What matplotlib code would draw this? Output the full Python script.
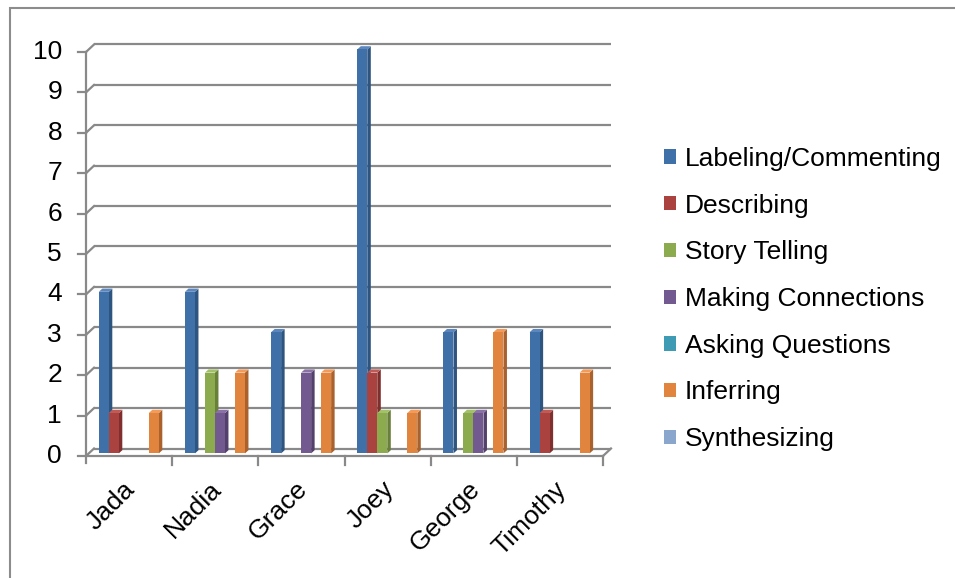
import matplotlib
matplotlib.use("Agg")
import matplotlib.pyplot as plt
from matplotlib.patches import Polygon, Rectangle, Patch
import numpy as np

plt.rcParams['font.family'] = ['Liberation Sans', 'DejaVu Sans']

students = ["Jada", "Nadia", "Grace", "Joey", "George", "Timothy"]
series = ["Labeling/Commenting", "Describing", "Story Telling",
          "Making Connections", "Asking Questions", "Inferring", "Synthesizing"]
labeling = [4, 4, 3, 10, 3, 3]
describing = [1, 0, 0, 2, 0, 1]
story = [0, 2, 0, 1, 1, 0]
connections = [0, 1, 2, 0, 1, 0]
asking = [0, 0, 0, 0, 0, 0]
inferring = [1, 2, 2, 1, 3, 2]
synthesizing = [0, 0, 0, 0, 0, 0]
values = [labeling, describing, story, connections, asking, inferring, synthesizing]

face = ["#4070A8", "#AA4340", "#8CAA4E", "#72598F", "#3F9AB3", "#E0843E", "#8AA6CC"]
side = ["#2E5480", "#7F302E", "#68803A", "#54416B", "#2E7386", "#A9622D", "#67809F"]
top = ["#5B87BE", "#C05A57", "#A3C168", "#8A72A7", "#5DB4CC", "#F29B5A", "#A5BEDD"]

W, H = 955, 578
fig = plt.figure(figsize=(W / 100, H / 100), dpi=100)

# front plane of the plot area in pixels
x0p, x1p = 86, 603
y0p, y10p = 456, 52
ax = fig.add_axes([x0p / W, 1 - y0p / H, (x1p - x0p) / W, (y0p - y10p) / H])
ax.set_xlim(0, 6)
ax.set_ylim(0, 10)
ax.axis("off")

ux = (x1p - x0p) / 6.0     # px per category
uy = (y0p - y10p) / 10.0   # px per unit value
dx, dy = 8 / ux, 7.5 / uy  # depth of the box
grid_c = "#898989"
lw = 1.6
fs = 19

# back wall gridlines and left wall diagonals
for v in range(11):
    ax.plot([dx, 6 + dx], [v + dy, v + dy], color=grid_c, lw=lw, clip_on=False,
            solid_capstyle="butt", zorder=1)
    ax.plot([0, dx], [v, v + dy], color=grid_c, lw=lw, clip_on=False, zorder=1)
    ax.plot([-8 / ux, 0], [v, v], color=grid_c, lw=lw, clip_on=False, zorder=1)
    ax.text(-24 / ux, v, str(v), ha="right", va="center", fontsize=fs)

# front axis, floor and category ticks
ax.plot([0, 0], [-7 / uy, 10], color=grid_c, lw=lw, clip_on=False, zorder=1)
ax.plot([0, 6], [0, 0], color=grid_c, lw=lw, clip_on=False, zorder=1)
ax.plot([6, 6 + dx], [0, dy], color=grid_c, lw=lw, clip_on=False, zorder=1)
for i in range(1, 7):
    ax.plot([i, i], [0, -9 / uy], color=grid_c, lw=lw, clip_on=False, zorder=1)

# 3-D style bars
bw = 10 / ux
off = 10 / ux
fx, fy = 2.8 / ux, 2.6 / uy   # front face offset into the box
bx, by = 3.5 / ux, 3.2 / uy   # bar depth
for s, vals in enumerate(values):
    for c, v in enumerate(vals):
        if v == 0:
            continue
        xl = c + off + s * bw + fx
        xr = xl + bw
        yb = fy
        yt = v + fy
        ax.add_patch(Polygon([(xr, yb), (xr, yt), (xr + bx, yt + by), (xr + bx, yb + by)],
                             closed=True, facecolor=side[s], edgecolor="none",
                             clip_on=False, zorder=3 + c * 10 + s))
        ax.add_patch(Polygon([(xl, yt), (xr, yt), (xr + bx, yt + by), (xl + bx, yt + by)],
                             closed=True, facecolor=top[s], edgecolor="none",
                             clip_on=False, zorder=3 + c * 10 + s))
        ax.add_patch(Rectangle((xl, yb), bw, v, facecolor=face[s], edgecolor="none",
                               clip_on=False, zorder=3 + c * 10 + s))

# category labels
for c, name in enumerate(students):
    ax.text(c + 0.5 + 11 / ux, -21 / uy, name, rotation=45, ha="right", va="top",
            fontsize=fs)

handles = [Patch(facecolor=face[s], edgecolor="none") for s in range(len(series))]
fig.legend(handles, series, loc="upper left", bbox_to_anchor=(664 / W, 1 - 147 / H),
           frameon=False, fontsize=fs, handlelength=0.46, handleheight=0.46,
           handletextpad=0.32, labelspacing=0.86, borderpad=0, borderaxespad=0)

# chart border
fig.add_artist(Rectangle((10 / W, -0.1), 1.2, 1.1 - 8 / H, transform=fig.transFigure,
                         fill=False, edgecolor="#8C8C8C", lw=1.5))

fig.savefig("out.png", dpi=100)
